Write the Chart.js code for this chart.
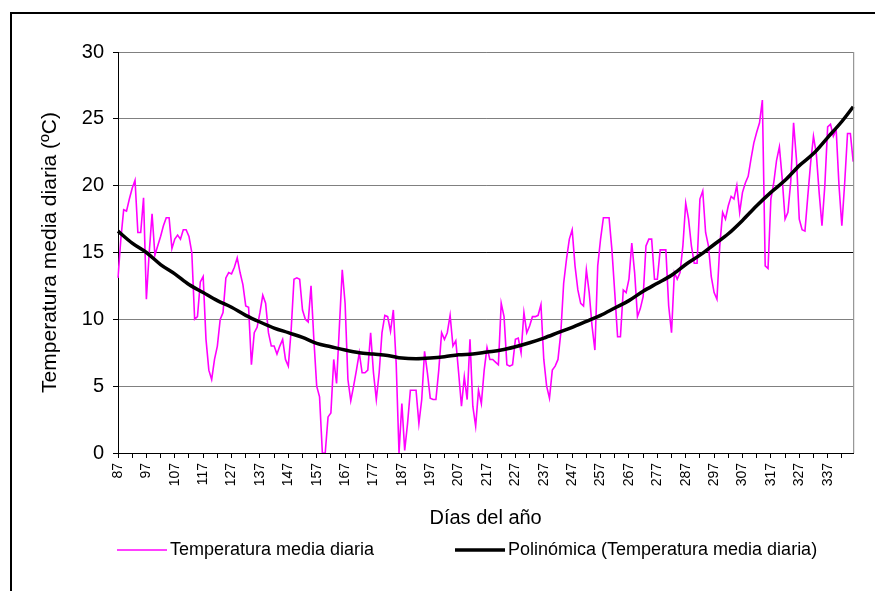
<!DOCTYPE html>
<html>
<head>
<meta charset="utf-8">
<script src="https://cdn.jsdelivr.net/npm/chart.js@4.4.1/dist/chart.umd.min.js"></script>
<style>
  html, body { margin: 0; padding: 0; background: #fff; }
</style>
</head>
<body>
<canvas id="tempChart" width="875" height="591"></canvas>
<script>
  // days of the year shown on the category axis (87 .. 346)
  const firstDay = 87;
  const lastDay = 346;
  const days = [];
  for (let d = firstDay; d <= lastDay; d++) days.push(d);

  // daily mean temperature (ºC), one value per day
  const dailyTemp = [
    13.1, 16.0, 18.2, 18.1, 19.0, 19.8, 20.4, 16.5, 16.5, 19.1,
    11.5, 15.0, 17.9, 14.8, 15.5, 16.2, 17.0, 17.6, 17.6, 15.3,
    16.0, 16.3, 16.0, 16.7, 16.7, 16.2, 15.0, 10.0, 10.2, 12.8,
    13.2, 8.5, 6.2, 5.5, 7.0, 8.0, 10.0, 10.5, 13.1, 13.5,
    13.4, 13.9, 14.6, 13.5, 12.6, 11.0, 10.9, 6.6, 9.0, 9.4,
    10.5, 11.8, 11.2, 9.0, 8.0, 8.0, 7.4, 8.0, 8.5, 7.0,
    6.5, 9.2, 13.0, 13.1, 13.0, 10.7, 10.0, 9.8, 12.5, 8.5,
    5.0, 4.2, 0.0, 0.0, 2.7, 3.0, 7.0, 5.2, 9.5, 13.7,
    11.2, 5.5, 3.9, 5.0, 6.2, 7.5, 6.0, 6.0, 6.2, 9.0,
    6.0, 4.0, 6.0, 9.0, 10.3, 10.2, 9.1, 10.7, 6.7, 0.0,
    3.7, 0.2, 2.2, 4.7, 4.7, 4.7, 2.2, 4.0, 7.6, 6.0,
    4.1, 4.0, 4.0, 6.2, 9.0, 8.5, 9.0, 10.3, 8.0, 8.4,
    6.0, 3.5, 5.7, 4.0, 8.5, 3.5, 2.0, 4.7, 3.7, 6.2,
    7.9, 7.0, 7.0, 6.8, 6.6, 11.2, 10.2, 6.6, 6.5, 6.6,
    8.5, 8.6, 7.5, 10.5, 9.0, 9.5, 10.2, 10.2, 10.3, 11.1,
    7.0, 5.0, 4.1, 6.2, 6.5, 7.0, 9.0, 12.7, 14.5, 16.0,
    16.7, 14.0, 12.2, 11.2, 11.0, 13.7, 12.0, 9.5, 7.7, 14.0,
    16.0, 17.6, 17.6, 17.6, 15.2, 12.0, 8.7, 8.7, 12.2, 12.0,
    13.0, 15.7, 13.5, 10.2, 10.8, 11.7, 15.5, 16.0, 16.0, 13.0,
    13.0, 15.2, 15.2, 15.2, 11.0, 9.0, 13.5, 13.0, 13.5, 15.5,
    18.7, 17.5, 15.5, 14.2, 14.2, 19.0, 19.6, 16.5, 15.5, 13.2,
    12.0, 11.5, 15.5, 18.0, 17.5, 18.5, 19.2, 19.0, 20.0, 18.0,
    19.5, 20.2, 20.7, 22.0, 23.2, 24.0, 24.7, 26.4, 14.0, 13.8,
    19.0, 20.2, 21.9, 22.9, 20.5, 17.5, 18.0, 20.3, 24.7, 22.0,
    17.5, 16.7, 16.6, 19.2, 21.7, 23.7, 22.4, 19.5, 17.0, 20.0,
    24.4, 24.6, 23.7, 24.2, 20.0, 17.0, 20.2, 23.9, 23.9, 21.8
  ];

  // polynomial trend line, sampled off the chart
  const trendDays = [87, 92, 97, 102, 107, 112, 117, 122, 127, 132, 137, 142, 147, 152, 157, 162, 167,
    172, 177, 182, 187, 192, 197, 202, 207, 212, 217, 222, 227, 232, 237, 242, 247, 252, 257, 262,
    267, 272, 277, 282, 287, 292, 297, 302, 307, 312, 317, 322, 327, 332, 337, 342, 346];
  const trendTemp = [16.6, 15.7, 15.0, 14.1, 13.4, 12.6, 12.0, 11.4, 10.9, 10.3, 9.8, 9.35, 9.0, 8.65, 8.2, 7.95, 7.7,
    7.5, 7.4, 7.3, 7.1, 7.05, 7.1, 7.2, 7.35, 7.4, 7.55, 7.7, 7.95, 8.25, 8.6, 9.0, 9.4, 9.85, 10.3, 10.85,
    11.4, 12.1, 12.7, 13.3, 14.1, 14.8, 15.6, 16.4, 17.4, 18.5, 19.5, 20.4, 21.5, 22.4, 23.6, 24.8, 25.9];

  const yTicks = [0, 5, 10, 15, 20, 25, 30];

  const fontFamily = '"Liberation Sans", Arial, sans-serif';

  // outer frame, right border of the plot and the legend under the axis title
  const framePlugin = {
    id: 'frame',
    afterDraw(chart) {
      const { ctx, chartArea: a } = chart;
      ctx.save();
      ctx.strokeStyle = '#808080';
      ctx.lineWidth = 1;
      ctx.beginPath();
      ctx.moveTo(a.right + 0.5, a.top);
      ctx.lineTo(a.right + 0.5, a.bottom);
      ctx.stroke();

      ctx.strokeStyle = '#000';
      ctx.lineWidth = 2;
      ctx.beginPath();
      ctx.moveTo(11, 591);
      ctx.lineTo(11, 13);
      ctx.lineTo(875, 13);
      ctx.stroke();

      ctx.font = '18px ' + fontFamily;
      ctx.textBaseline = 'middle';
      ctx.fillStyle = '#000';
      const y = 550;
      [{ x: 117, i: 0 }, { x: 455, i: 1 }].forEach(item => {
        const ds = chart.data.datasets[item.i];
        ctx.strokeStyle = ds.borderColor;
        ctx.lineWidth = ds.borderWidth;
        ctx.beginPath();
        ctx.moveTo(item.x, y);
        ctx.lineTo(item.x + 50, y);
        ctx.stroke();
        ctx.fillText(ds.label, item.x + 53, y);
      });
      ctx.restore();
    }
  };

  const ctx = document.getElementById('tempChart').getContext('2d');
  const tempChart = new Chart(ctx, {
    type: 'line',
    data: {
      labels: days,
      datasets: [{
        label: 'Temperatura media diaria',
        data: dailyTemp,
        borderColor: '#FF00FF',
        borderWidth: 1.6,
        pointRadius: 0,
        tension: 0,
        order: 1
      }, {
        label: 'Polinómica (Temperatura media diaria)',
        data: trendDays.map((d, i) => ({ x: d, y: trendTemp[i] })),
        borderColor: '#000',
        borderWidth: 3.5,
        pointRadius: 0,
        cubicInterpolationMode: 'monotone',
        order: 0
      }]
    },
    options: {
      responsive: false,
      animation: false,
      layout: { padding: { left: 38, top: 52, right: 8, bottom: 61 } },
      plugins: {
        legend: { display: false },
        tooltip: { enabled: false }
      },
      scales: {
        x: {
          ticks: {
            autoSkip: false,
            minRotation: 90,
            maxRotation: 90,
            padding: 5,
            color: '#000',
            font: { family: fontFamily, size: 14 },
            callback(value, index) {
              return index % 10 === 0 ? this.getLabelForValue(value) : '';
            }
          },
          grid: {
            drawOnChartArea: false,
            tickLength: 5,
            tickColor: c => (c.index % 5 === 0 ? '#000' : 'rgba(0,0,0,0)')
          },
          border: { color: '#000', width: 1 },
          title: {
            display: true,
            text: 'Días del año',
            color: '#000',
            font: { family: fontFamily, size: 20 },
            padding: 0
          },
          afterFit(scale) { scale.height = 77; }
        },
        y: {
          min: 0,
          max: 30,
          afterBuildTicks(scale) { scale.ticks = yTicks.map(v => ({ value: v })); },
          ticks: {
            padding: 9,
            color: '#000',
            font: { family: fontFamily, size: 20 }
          },
          grid: {
            color: c => (c.tick && c.tick.value === 15 ? '#000' : '#808080'),
            tickColor: '#000',
            tickLength: 5
          },
          border: { color: '#000', width: 1 },
          title: {
            display: true,
            text: 'Temperatura media diaria (ºC)',
            color: '#000',
            font: { family: fontFamily, size: 21 },
            padding: 0
          },
          afterFit(scale) { scale.width = 80; }
        }
      }
    },
    plugins: [framePlugin]
  });
</script>
</body>
</html>
